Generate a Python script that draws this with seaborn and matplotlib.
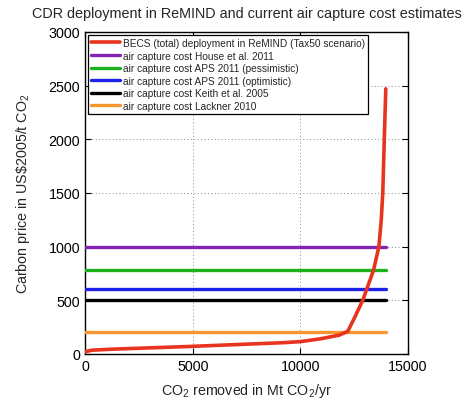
import numpy as np
import pandas as pd
import matplotlib
matplotlib.use("Agg")
import matplotlib.pyplot as plt
import seaborn as sns

# BECS deployment curve
becs_x = [0, 300, 1300, 4600, 9200, 10000, 10900, 11800, 12200, 12500, 12900,
          13150, 13400, 13650, 13760, 13830, 13900, 13970]
becs_y = [20, 35, 45, 68, 105, 115, 140, 175, 210, 330, 500,
          640, 780, 1000, 1250, 1500, 2000, 2470]

# air capture cost estimates (US$2005/t CO2)
cost_labels = ["air capture cost House et al. 2011",
               "air capture cost APS 2011 (pessimistic)",
               "air capture cost APS 2011 (optimistic)",
               "air capture cost Keith et al. 2005",
               "air capture cost Lackner 2010"]
cost_values = [1000, 780, 605, 500, 200]
cost_colors = ["#8424B4", "#1DB21D", "#1E22E6", "#000000", "#F7962E"]
cost_x = [0, 14000]

sns.set_style("ticks")
plt.rcParams["font.family"] = ["Liberation Sans", "DejaVu Sans"]
plt.rcParams["mathtext.fontset"] = "custom"
plt.rcParams["mathtext.rm"] = "Liberation Sans"
plt.rcParams["mathtext.it"] = "Liberation Sans:italic"

fig = plt.figure(figsize=(4.7, 4.02), dpi=100)
ax = fig.add_axes([0.181, 0.117, 0.687, 0.801])

sns.lineplot(x=becs_x, y=becs_y, ax=ax, color="#E8341F", lw=2.6,
             label="BECS (total) deployment in ReMIND (Tax50 scenario)", zorder=5)
for lab, val, col in zip(cost_labels, cost_values, cost_colors):
    sns.lineplot(x=cost_x, y=[val, val], ax=ax, color=col, lw=2.4, label=lab, zorder=3)

ax.set_xlim(0, 15000)
ax.set_ylim(0, 3000)
ax.set_xticks([0, 5000, 10000, 15000])
ax.set_yticks(np.arange(0, 3001, 500))
ax.tick_params(direction="in", top=True, right=True, labelsize=10.3, length=4,
               width=0.8, colors="black")
ax.grid(True, linestyle=(0, (1, 2.5)), color="#888888", lw=0.7)
for s in ax.spines.values():
    s.set_visible(True)
    s.set_color("black")
    s.set_linewidth(1.0)

ax.set_title("CDR deployment in ReMIND and current air capture cost estimates",
             fontsize=10.4, pad=11)
ax.set_xlabel("CO$_2$ removed in Mt CO$_2$/yr", fontsize=10.3, labelpad=6)
ax.set_ylabel("Carbon price in US\\$2005/t CO$_2$", fontsize=10.3, labelpad=12)

leg = ax.legend(loc="upper left", fontsize=7.3, frameon=True, fancybox=False,
                edgecolor="black", framealpha=1, borderaxespad=0.3,
                handlelength=2.8, labelspacing=0.25, borderpad=0.3,
                handletextpad=0.3)
leg.get_frame().set_linewidth(0.9)

fig.savefig("out.png", dpi=100)
